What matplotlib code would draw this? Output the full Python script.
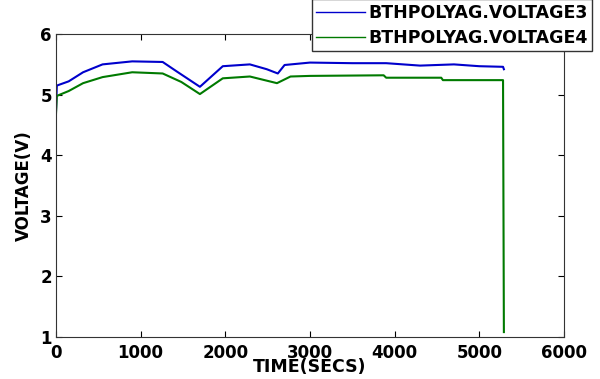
import matplotlib
matplotlib.use('Agg')
import matplotlib.pyplot as plt

# values
t_v3 = [0, 10, 150, 320, 550, 900, 1260, 1430, 1700, 1970, 2290, 2490, 2620, 2700,
        3000, 3500, 3900, 4300, 4700, 5000, 5280, 5290]
v3 = [4.72, 5.15, 5.22, 5.37, 5.50, 5.55, 5.54, 5.38, 5.13, 5.47, 5.50, 5.42, 5.35, 5.49,
      5.53, 5.52, 5.52, 5.48, 5.50, 5.47, 5.46, 5.42]

t_v4 = [0, 10, 150, 320, 550, 900, 1260, 1480, 1700, 1970, 2290, 2610, 2770,
        3000, 3870, 3900, 4550, 4570, 5280, 5290]
v4 = [4.68, 4.98, 5.06, 5.19, 5.29, 5.37, 5.35, 5.21, 5.01, 5.27, 5.30, 5.19, 5.30,
      5.31, 5.32, 5.28, 5.28, 5.24, 5.24, 1.08]

labels = ['BTHPOLYAG.VOLTAGE3', 'BTHPOLYAG.VOLTAGE4']
xticks = [0, 1000, 2000, 3000, 4000, 5000, 6000]
yticks = [1, 2, 3, 4, 5, 6]

plt.rcParams['font.family'] = ['DejaVu Sans']
plt.rcParams['font.weight'] = 'bold'

fig = plt.figure(figsize=(6, 3.79), dpi=100)
ax = fig.add_axes([0.0933, 0.111, 0.8467, 0.799])

l1, = ax.plot(t_v3, v3, color='#0000cc', lw=1.5)
l2, = ax.plot(t_v4, v4, color='#007a00', lw=1.5)

ax.set_xlim(0, 6000)
ax.set_ylim(1, 6)
ax.set_xticks(xticks)
ax.set_yticks(yticks)
ax.tick_params(direction='in', length=4, top=True, right=True, labelsize=12, pad=3)
ax.tick_params(axis='x', pad=5)
for lab in ax.get_xticklabels() + ax.get_yticklabels():
    lab.set_fontweight('bold')
for sp in ax.spines.values():
    sp.set_color('#333333')

ax.set_xlabel('TIME(SECS)', fontsize=12.5, fontweight='bold', labelpad=-3)
ax.set_ylabel('VOLTAGE(V)', fontsize=12, fontweight='bold', labelpad=5)

leg = ax.legend([l1, l2], labels, loc='lower left',
                bbox_to_anchor=(312 / 600, 1 - 51 / 379), bbox_transform=fig.transFigure,
                borderaxespad=0, fontsize=12.5, handlelength=2.8, handletextpad=0.2,
                borderpad=0.25, labelspacing=0.4, fancybox=False, framealpha=1,
                edgecolor='#333333')
for txt in leg.get_texts():
    txt.set_fontweight('bold')
leg.get_frame().set_linewidth(1.0)
for h in leg.get_lines():
    h.set_linewidth(1.0)

fig.savefig('out.png', dpi=100)
